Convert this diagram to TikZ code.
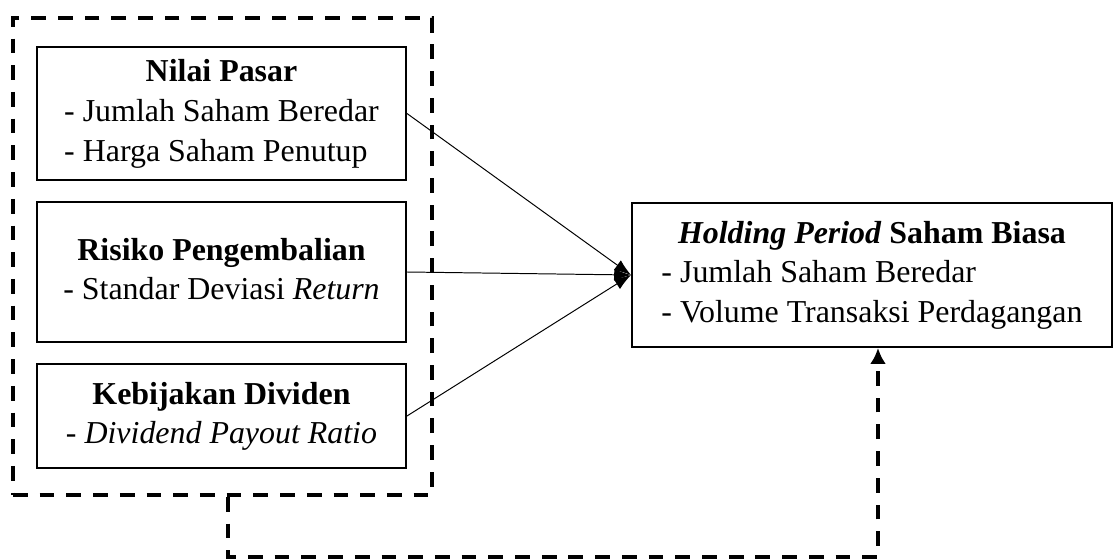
\documentclass[tikz,border=0pt]{standalone}
\usepackage{fontspec}
\setmainfont{Liberation Serif}
\usetikzlibrary{arrows.meta, positioning, calc}
\newcommand{\isikotak}[2]{\begin{tabular}{@{}l@{}}\multicolumn{1}{c}{#1}\\#2\end{tabular}}

\begin{document}
\begin{tikzpicture}[
    kotak/.style={draw,line width=1.4pt,minimum width=9.225cm,inner sep=0pt},
    panah/.style={-{Latex[length=0.42cm,width=0.3cm]},line width=0.7pt},
    garis/.style={line width=2.6pt,dash pattern=on 10.5pt off 8.5pt},
    font=\fontsize{22.7}{28.4}\selectfont
]
    \useasboundingbox (0,0) rectangle (27.875,-13.975);

    % Kelompok variabel independen
    \node[draw,garis,minimum width=10.475cm,minimum height=11.925cm] (grup) at (5.5625,-6.4125) {};

    \node[kotak,minimum height=3.325cm] (nilai) at (5.5375,-2.8375) {\isikotak{\textbf{Nilai Pasar}}{- Jumlah Saham Beredar\\- Harga Saham Penutup}};

    \node[kotak,minimum height=3.5cm] (risiko) at (5.5375,-6.8) {\isikotak{\textbf{Risiko Pengembalian}}{- Standar Deviasi \textit{Return}}};

    \node[kotak,minimum height=2.6cm] (dividen) at (5.5375,-10.4) {\isikotak{\textbf{Kebijakan Dividen}}{- \textit{Dividend Payout Ratio}}};

    % Variabel dependen
    \node[kotak,minimum width=12cm,minimum height=3.6cm] (hold) at (21.8,-6.875) {\isikotak{\textbf{\textit{Holding Period} Saham Biasa}}{- Jumlah Saham Beredar\\- Volume Transaksi Perdagangan}};

    % Hubungan
    \draw[panah] (nilai.east) -- (hold.west);
    \draw[panah] (risiko.east) -- (hold.west);
    \draw[panah] (dividen.east) -- (hold.west);

    % Hubungan simultan
    \coordinate (bawah) at (5.7,-13.925);
    \coordinate (bawah2) at (21.95,-13.925);
    \draw[garis,-{Latex[length=0.4cm,width=0.4cm]}] (bawah |- grup.south) -- (bawah) -- (bawah2) -- (bawah2 |- hold.south);
\end{tikzpicture}
\end{document}
